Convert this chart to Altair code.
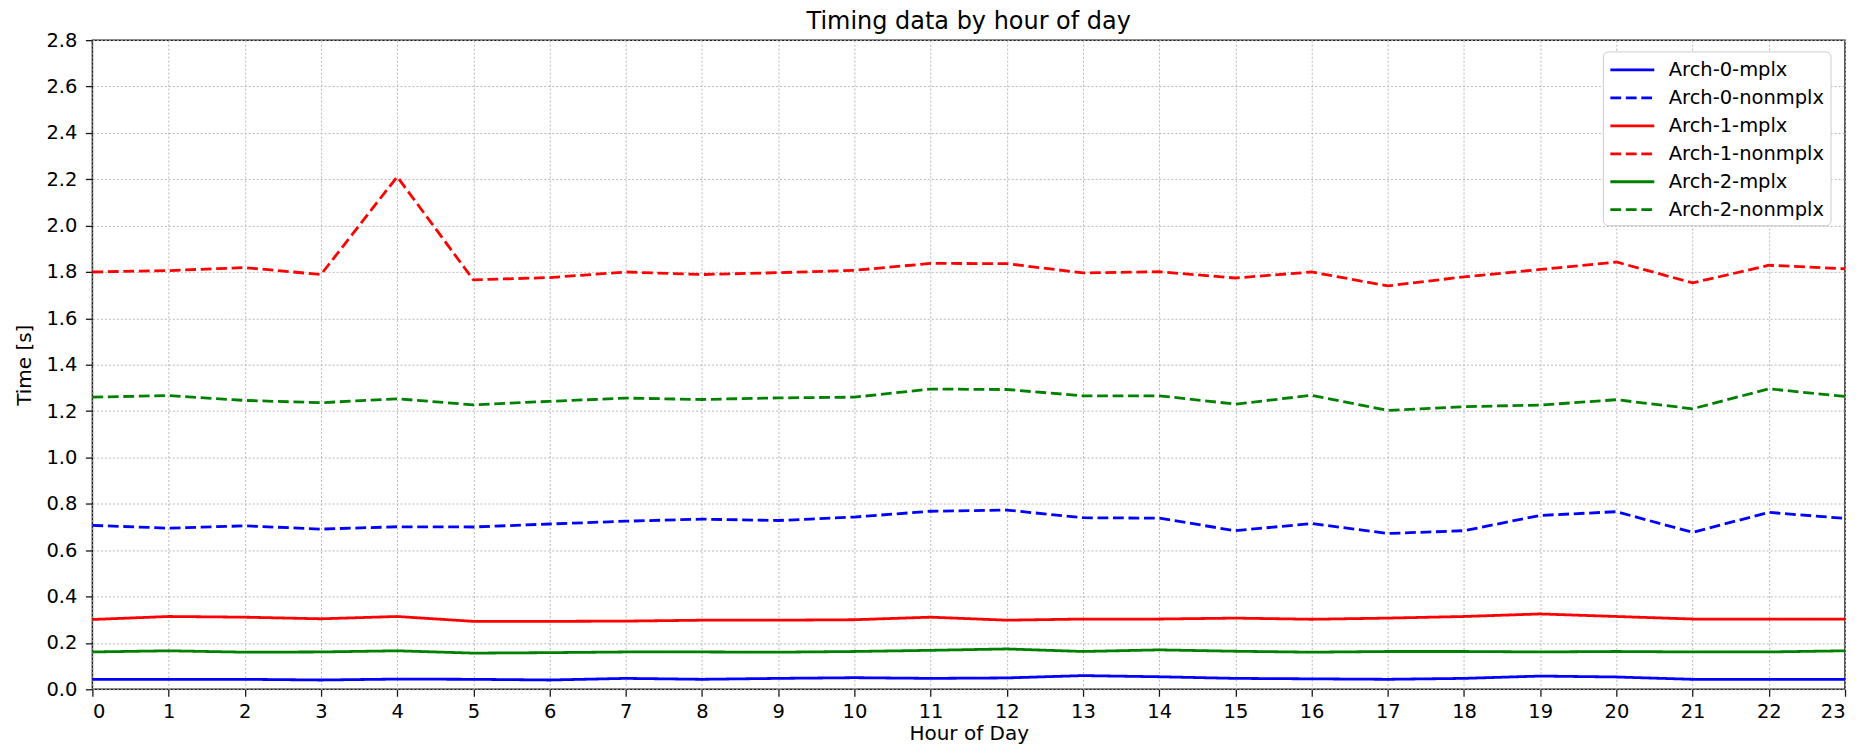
import altair as alt
import pandas as pd

hours = list(range(24))
series_names = ["Arch-0-mplx", "Arch-0-nonmplx", "Arch-1-mplx",
                "Arch-1-nonmplx", "Arch-2-mplx", "Arch-2-nonmplx"]

arch0_mplx = [0.043, 0.043, 0.043, 0.040, 0.044, 0.043, 0.040, 0.047, 0.043, 0.047, 0.050, 0.047,
              0.049, 0.059, 0.054, 0.047, 0.045, 0.043, 0.047, 0.057, 0.053, 0.043, 0.043, 0.043]
arch0_nonmplx = [0.707, 0.695, 0.705, 0.691, 0.701, 0.700, 0.713, 0.725, 0.734, 0.728, 0.743, 0.768,
                 0.773, 0.740, 0.738, 0.684, 0.715, 0.672, 0.684, 0.750, 0.766, 0.677, 0.763, 0.737]
arch1_mplx = [0.301, 0.314, 0.311, 0.304, 0.314, 0.293, 0.293, 0.294, 0.298, 0.298, 0.300, 0.311,
              0.298, 0.303, 0.303, 0.307, 0.302, 0.307, 0.314, 0.325, 0.314, 0.303, 0.303, 0.303]
arch1_nonmplx = [1.800, 1.806, 1.819, 1.789, 2.211, 1.766, 1.776, 1.800, 1.789, 1.797, 1.807, 1.837,
                 1.836, 1.796, 1.801, 1.774, 1.800, 1.740, 1.779, 1.811, 1.843, 1.753, 1.829, 1.814]
arch2_mplx = [0.161, 0.166, 0.160, 0.161, 0.166, 0.156, 0.158, 0.161, 0.161, 0.160, 0.163, 0.168,
              0.174, 0.163, 0.170, 0.164, 0.160, 0.163, 0.163, 0.161, 0.163, 0.161, 0.161, 0.166]
arch2_nonmplx = [1.260, 1.267, 1.246, 1.236, 1.253, 1.227, 1.242, 1.256, 1.250, 1.257, 1.260, 1.295,
                 1.293, 1.266, 1.266, 1.230, 1.268, 1.203, 1.219, 1.226, 1.249, 1.210, 1.296, 1.263]

y_ticks = [0.0, 0.2, 0.4, 0.6, 0.8, 1.0, 1.2, 1.4, 1.6, 1.8, 2.0, 2.2, 2.4, 2.6, 2.8]
x_ticks = hours

series_values = [arch0_mplx, arch0_nonmplx, arch1_mplx, arch1_nonmplx, arch2_mplx, arch2_nonmplx]
series_colors = ["#0000ff", "#0000ff", "#ff0000", "#ff0000", "#008000", "#008000"]
dash_solid = [1, 0]
dash_dashed = [10.8, 4.7]
series_dashes = [dash_solid, dash_dashed] * 3

rows = []
for name, vals in zip(series_names, series_values):
    for h, v in zip(hours, vals):
        rows.append({"hour": h, "time": v, "series": name})
df = pd.DataFrame(rows)

FONT = "DejaVu Sans"

legend = alt.Legend(
    title=None,
    orient="none",
    legendX=1512.5,
    legendY=11.3,
    symbolType="M-1,0H3",
    symbolSize=484,
    symbolStrokeWidth=2.8,
    labelFont=FONT,
    labelFontSize=19.5,
    labelColor="#000000",
    labelLimit=400,
    labelOffset=35,
    rowPadding=6,
    padding=6,
    fillColor="white",
    strokeColor="#cccccc",
    cornerRadius=5,
)

chart = alt.Chart(df).mark_line(strokeWidth=2.8, strokeCap="butt").encode(
    x=alt.X("hour:Q", title="Hour of Day",
            scale=alt.Scale(domain=[0, 23], nice=False, zero=False),
            axis=alt.Axis(values=x_ticks, format="d", labelPadding=6, titlePadding=3)),
    y=alt.Y("time:Q", title="Time [s]",
            scale=alt.Scale(domain=[0, 2.8], nice=False),
            axis=alt.Axis(values=y_ticks, format=".1f", labelPadding=8.5, titlePadding=11)),
    color=alt.Color("series:N", sort=series_names,
                    scale=alt.Scale(domain=series_names, range=series_colors),
                    legend=legend),
    strokeDash=alt.StrokeDash("series:N", sort=series_names,
                              scale=alt.Scale(domain=series_names, range=series_dashes),
                              legend=legend),
).properties(
    width=1755,
    height=650,
    autosize=alt.AutoSizeParams(type="none"),
    padding={"left": 84.5, "top": 31.7, "right": 20, "bottom": 55.3},
    title=alt.TitleParams("Timing data by hour of day", font=FONT, fontSize=24,
                          fontWeight="normal", color="#000000", anchor="middle",
                          frame="group", offset=-4),
).configure_view(
    stroke="#1a1a1a", strokeWidth=1.5
).configure_axis(
    domain=False,
    grid=True,
    gridColor="#b8b8b8",
    gridDash=[2, 2],
    gridWidth=1,
    ticks=True,
    tickColor="#1a1a1a",
    tickSize=7,
    tickWidth=1.3,
    labelFont=FONT,
    labelFontSize=19.5,
    labelColor="#000000",
    titleFont=FONT,
    titleFontSize=20,
    titleFontWeight="normal",
    titleColor="#000000",
)

chart.save("out.html", embed_options={"renderer": "svg", "actions": False})
